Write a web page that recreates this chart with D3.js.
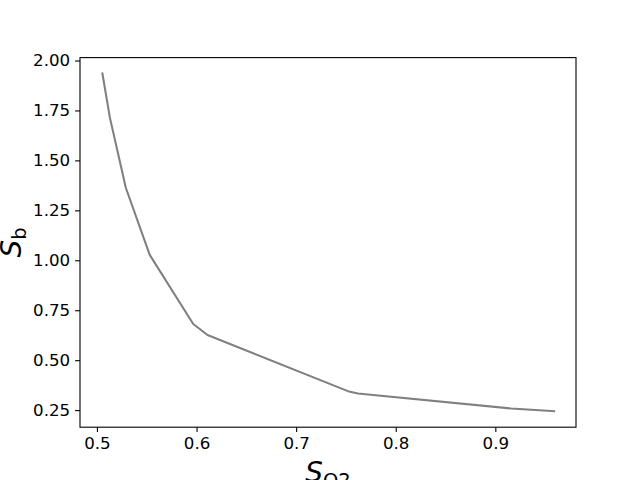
<!DOCTYPE html>
<html>
<head>
<meta charset="utf-8">
<script src="https://cdn.jsdelivr.net/npm/d3@7"></script>
<style>
body { margin: 0; background: #fff; }
text { font-family: "DejaVu Sans", sans-serif; }
</style>
</head>
<body>
<svg id="chart" width="640" height="480"></svg>
<script>
const sO2 = [0.5055, 0.513, 0.529, 0.553, 0.5967, 0.611, 0.752, 0.762, 0.916, 0.959];
const sB  = [1.935, 1.714, 1.363, 1.027, 0.681, 0.626, 0.345, 0.333, 0.258, 0.245];
const xTicks = [0.5, 0.6, 0.7, 0.8, 0.9];
const yTicks = [0.25, 0.50, 0.75, 1.00, 1.25, 1.50, 1.75, 2.00];

const svg = d3.select("#chart");
const L = 80, R = 576, T = 57.6, B = 427.2;
const x = d3.scaleLinear().domain([0.483, 0.981]).range([L, R]);
const y = d3.scaleLinear().domain([0.1645, 2.0145]).range([B, T]);

svg.append("rect").attr("width", 640).attr("height", 480).attr("fill", "#fff");

const data = sO2.map((v, i) => [v, sB[i]]);
svg.append("path")
  .datum(data)
  .attr("fill", "none")
  .attr("stroke", "#808080")
  .attr("stroke-width", 2.08)
  .attr("stroke-linejoin", "round")
  .attr("stroke-linecap", "square")
  .attr("d", d3.line().x(d => x(d[0])).y(d => y(d[1])));

const xAxis = svg.append("g").attr("transform", `translate(0,${B})`)
  .call(d3.axisBottom(x).tickValues(xTicks).tickFormat(d3.format(".1f")).tickSize(4.9).tickPadding(4.9));
const yAxis = svg.append("g").attr("transform", `translate(${L},0)`)
  .call(d3.axisLeft(y).tickValues(yTicks).tickFormat(d3.format(".2f")).tickSize(4.9).tickPadding(4.9));
[xAxis, yAxis].forEach(g => {
  g.select(".domain").remove();
  g.selectAll(".tick line").attr("stroke", "#000").attr("stroke-width", 1.1);
  g.selectAll(".tick text").attr("fill", "#000").style("font-size", "16.67px").style("font-family", "DejaVu Sans");
});

svg.append("rect").attr("x", L).attr("y", T).attr("width", R - L).attr("height", B - T)
  .attr("fill", "none").attr("stroke", "#000").attr("stroke-width", 1.1);

// x label S_O2
const xl = svg.append("text").attr("x", (L + R) / 2).attr("y", 482)
  .attr("text-anchor", "middle").style("font-size", "27.8px").attr("fill", "#000");
xl.append("tspan").style("font-style", "italic").text("S");
xl.append("tspan").attr("dy", 5).style("font-size", "19.5px").text("O2");

// y label S_b
const yl = svg.append("text")
  .attr("transform", `translate(21,${(T + B) / 2}) rotate(-90)`)
  .attr("text-anchor", "middle").style("font-size", "27.8px").attr("fill", "#000");
yl.append("tspan").style("font-style", "italic").text("S");
yl.append("tspan").attr("dy", 5).style("font-size", "19.5px").text("b");
</script>
</body>
</html>
